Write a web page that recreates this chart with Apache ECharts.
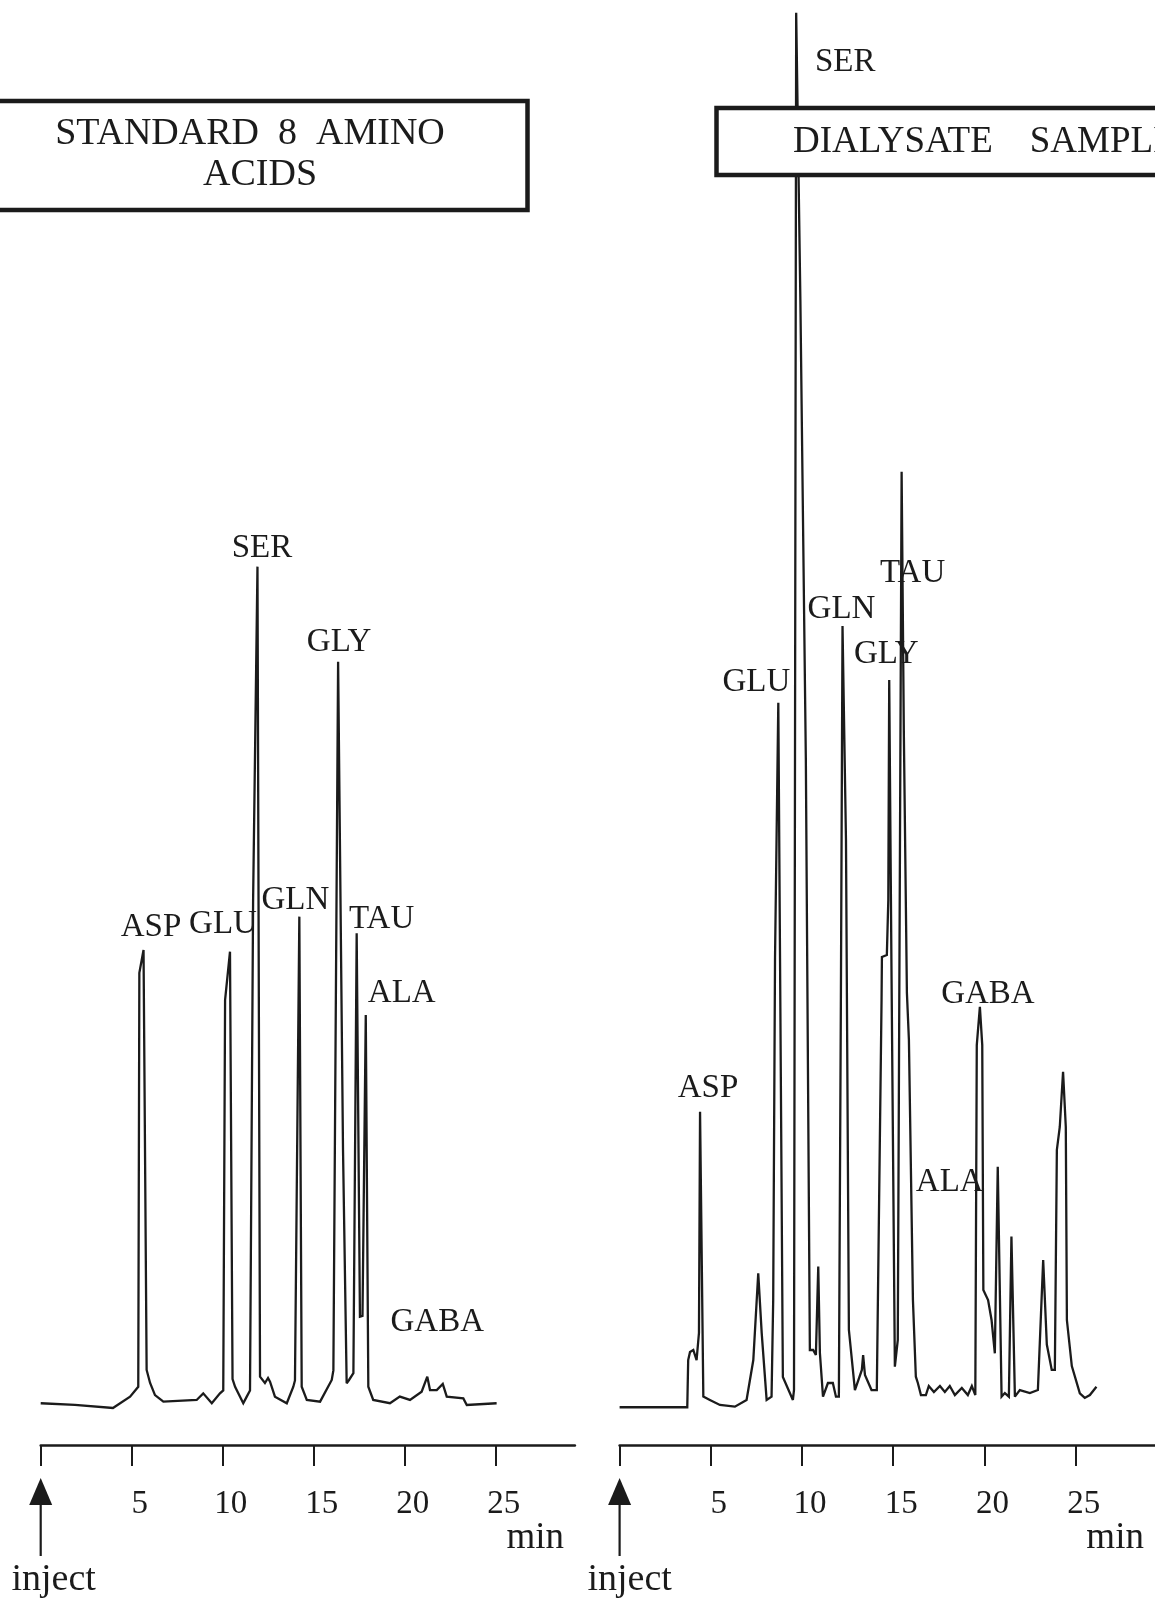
<!DOCTYPE html>
<html>
<head>
<meta charset="utf-8">
<script src="https://cdn.jsdelivr.net/npm/echarts@6/dist/echarts.min.js"></script>
<style>
  html, body { margin: 0; padding: 0; background: #ffffff; }
  #chart { width: 1155px; height: 1599px; }
</style>
</head>
<body>
<div id="chart"></div>
<script>
// ---- chromatogram data: retention time (min) and detector signal (relative units) ----
const tickMinutes = [0, 5, 10, 15, 20, 25];
const labelMinutes = [5, 10, 15, 20, 25];

// Standard mixture of 8 amino acids
const standardTime = [
  0, 1.88, 3.97, 4.91, 5.36, 5.42, 5.65, 5.82, 6.01, 6.28, 6.74, 8.57, 8.93, 9.40, 9.85,
  10.03, 10.13, 10.40, 10.54, 10.68, 11.13, 11.32, 11.50, 11.67, 11.91, 12.05, 12.32, 12.49,
  12.60, 12.87, 13.52, 13.88, 13.97, 14.21, 14.34, 14.62, 15.35, 15.99, 16.08, 16.34, 16.61,
  16.81, 16.94, 17.18, 17.36, 17.54, 17.68, 17.86, 18.00, 18.27, 19.19, 19.73, 20.29, 20.93,
  21.24, 21.39, 21.76, 22.09, 22.31, 23.22, 23.41, 25.05
];
const standardSignal = [
  2.91, 2.79, 2.58, 3.37, 4.06, 32.9, 34.49, 5.23, 4.32, 3.48, 3.02, 3.14, 3.60, 2.91, 3.60,
  3.80, 31.0, 34.38, 4.60, 4.06, 2.91, 3.37, 3.80, 37.98, 61.21, 4.76, 4.32, 4.67,
  4.41, 3.37, 2.91, 4.06, 4.50, 36.82, 4.06, 3.14, 3.02, 4.53, 5.20, 54.58, 20.56,
  4.30, 4.53, 5.00, 35.66, 8.94, 9.00, 29.97, 4.06, 3.14, 2.91, 3.37, 3.14, 3.71,
  4.76, 3.83, 3.83, 4.25, 3.37, 3.25, 2.79, 2.91
];
const standardPeakNames = ['ASP', 'GLU', 'SER', 'GLN', 'GLY', 'TAU', 'ALA', 'GABA'];
const standardPeakTimes = [5.65, 10.40, 11.91, 14.21, 16.34, 17.36, 17.86, 21.24];

// Dialysate sample
const dialysateTime = [
  0, 3.71, 3.76, 3.86, 4.04, 4.22, 4.35, 4.41, 4.59, 4.95, 5.50, 6.32, 6.96, 7.33, 7.60, 7.79,
  8.06, 8.33, 8.42, 8.52, 8.70, 8.95, 9.50, 9.56, 9.68, 9.91, 10.21, 10.43, 10.61, 10.76,
  10.89, 10.98, 11.15, 11.42, 11.69, 11.86, 12.02, 12.13, 12.22, 12.41, 12.57, 12.90, 13.28,
  13.35, 13.45, 13.81, 14.10, 14.36, 14.38, 14.65, 14.73, 14.78, 14.90, 15.09, 15.25, 15.46,
  15.58, 15.75, 15.86, 16.08, 16.24, 16.35, 16.52, 16.79, 16.95, 17.23, 17.56, 17.83, 18.10,
  18.38, 18.76, 19.09, 19.31, 19.50, 19.58, 19.75, 19.88, 19.94, 20.20, 20.39, 20.57, 20.73,
  20.94, 21.12, 21.34, 21.48, 21.67, 21.94, 22.49, 22.93, 23.22, 23.42, 23.69, 23.86, 23.97,
  24.13, 24.31, 24.46, 24.52, 24.79, 25.23, 25.50, 25.78, 26.14
];
const dialysateSignal = [
  2.63, 2.63, 5.92, 6.48, 6.62, 5.92, 7.80, 23.23, 3.37, 3.14, 2.79, 2.67, 3.14, 5.92, 11.97, 7.80,
  3.14, 3.37, 10.10, 33.94, 51.73, 4.74, 3.14, 3.83, 99.8, 79.79, 47.74, 6.62, 6.62, 6.27,
  12.43, 6.41, 3.37, 4.32, 4.32, 3.37, 3.37, 31.01, 57.07, 42.16, 8.01, 3.83, 5.23,
  6.27, 4.88, 3.83, 3.83, 31.01, 34.01, 34.15, 37.98, 53.31, 33.80, 5.46, 7.32, 67.83,
  49.83, 31.50, 28.22, 10.10, 4.76, 4.32, 3.48, 3.48, 4.11, 3.69, 4.11, 3.69, 4.11,
  3.48, 3.97, 3.48, 4.11, 3.48, 27.87, 30.54, 27.87, 10.80, 10.10, 8.71, 6.39, 19.39,
  3.37, 3.62, 3.37, 14.52, 3.37, 3.83, 3.62, 3.83, 12.89, 7.00, 5.23, 5.23, 20.56,
  22.16, 26.01, 22.16, 8.71, 5.50, 3.60, 3.28, 3.48, 4.06
];
const dialysatePeakNames = ['ASP', 'GLU', 'SER', 'GLN', 'GLY', 'TAU', 'GABA', 'ALA'];
const dialysatePeakTimes = [4.41, 8.70, 9.68, 12.22, 14.78, 15.46, 19.75, 20.73];

const standardTitle = ['STANDARD  8  AMINO', 'ACIDS'];
const dialysateTitle = 'DIALYSATE    SAMPLE';
const axisUnit = 'min';
const injectText = 'inject';

// ---- presentation ----
const FONT = '"Liberation Serif", "Times New Roman", serif';
const INK = '#1b1b1b';

const layout = {
  gridTop: 10,
  gridHeight: 1435,
  xMax: 29.35,
  yMax: 100,
  panels: [
    { left: 40.7, width: 534.2 },
    { left: 619.6, width: 535.4 }
  ]
};

// label placement (px) relative to each named peak apex
const labelOffsets = [
  { ASP: [7.5, -23], GLU: [-7, -27], SER: [4.5, -18], GLN: [-4, -16],
    GLY: [1, -19], TAU: [25, -14], ALA: [36, -22], GABA: [10, -54] },
  { ASP: [8, -23], GLU: [-22, -20], SER: [49, 49], GLN: [-1, -17],
    GLY: [-3, -26], TAU: [11, 102], GABA: [8, -12], ALA: [-48, 16] }
];

function zip(xs, ys) { return xs.map((x, i) => [x, ys[i]]); }

function peakMarks(names, times, xs, ys, offsets) {
  return names.map((name, i) => {
    const t = times[i];
    const v = ys[xs.indexOf(t)];
    return { name: name, coord: [t, v], label: { offset: offsets[name] } };
  });
}

const traces = [
  { time: standardTime, signal: standardSignal, names: standardPeakNames, times: standardPeakTimes },
  { time: dialysateTime, signal: dialysateSignal, names: dialysatePeakNames, times: dialysatePeakTimes }
];

const chart = echarts.init(document.getElementById('chart'), null, { renderer: 'canvas' });

const option = {
  animation: false,
  backgroundColor: '#ffffff',
  grid: layout.panels.map(p => ({
    left: p.left, width: p.width, top: layout.gridTop, height: layout.gridHeight,
    containLabel: false
  })),
  xAxis: layout.panels.map((p, i) => ({
    gridIndex: i,
    type: 'value',
    min: 0,
    max: layout.xMax,
    interval: 5,
    axisLine: { show: true, onZero: false, lineStyle: { color: INK, width: 2.5 } },
    axisTick: { show: true, inside: false, length: 21, customValues: tickMinutes,
                lineStyle: { color: INK, width: 2 } },
    axisLabel: { show: true, customValues: labelMinutes, margin: 43, color: INK,
                 fontFamily: FONT, fontSize: 33, padding: [0, 0, 0, 16] },
    splitLine: { show: false }
  })),
  yAxis: layout.panels.map((p, i) => ({
    gridIndex: i, type: 'value', min: 0, max: layout.yMax, show: false
  })),
  series: traces.map((tr, i) => ({
    type: 'line',
    xAxisIndex: i,
    yAxisIndex: i,
    data: zip(tr.time, tr.signal),
    showSymbol: false,
    symbol: 'none',
    smooth: false,
    lineStyle: { color: INK, width: 2.3, join: 'miter', miterLimit: 3 },
    z: 2,
    markPoint: {
      symbol: 'circle',
      symbolSize: 1,
      itemStyle: { color: 'rgba(0,0,0,0)' },
      label: { show: true, position: 'inside', formatter: '{b}', color: INK,
               fontFamily: FONT, fontSize: 33 },
      data: peakMarks(tr.names, tr.times, tr.time, tr.signal, labelOffsets[i])
    }
  }))
};

chart.setOption(option);

// inject arrows, unit labels and title boxes, placed from the axis scales
function decorations() {
  const g = [];
  [0, 1].forEach(i => {
    const origin = chart.convertToPixel({ xAxisIndex: i, yAxisIndex: i }, [0, 0]);
    const last = chart.convertToPixel({ xAxisIndex: i, yAxisIndex: i }, [25, 0]);
    const x0 = origin[0], y0 = origin[1];
    g.push({ type: 'polygon', z: 20,
      shape: { points: [[x0, y0 + 33], [x0 - 11.5, y0 + 60], [x0 + 11.5, y0 + 60]] },
      style: { fill: INK } });
    g.push({ type: 'line', z: 20,
      shape: { x1: x0, y1: y0 + 58, x2: x0, y2: y0 + 111 },
      style: { stroke: INK, lineWidth: 2.2 } });
    g.push({ type: 'text', z: 20, x: x0 + (i === 0 ? 13 : 10), y: y0 + 135,
      style: { text: injectText, fill: INK, fontFamily: FONT, fontSize: 38,
               align: 'center', verticalAlign: 'middle' } });
    g.push({ type: 'text', z: 20, x: last[0] + 39.5, y: y0 + 93,
      style: { text: axisUnit, fill: INK, fontFamily: FONT, fontSize: 37,
               align: 'center', verticalAlign: 'middle' } });
  });
  // title boxes sit on top of the traces
  g.push({ type: 'rect', z: 30, shape: { x: -10, y: 101, width: 537.5, height: 109 },
    style: { fill: '#ffffff', stroke: INK, lineWidth: 4.5 } });
  g.push({ type: 'text', z: 31, x: 250, y: 134,
    style: { text: standardTitle[0], fill: INK, fontFamily: FONT, fontSize: 38,
             align: 'center', verticalAlign: 'middle' } });
  g.push({ type: 'text', z: 31, x: 260, y: 175,
    style: { text: standardTitle[1], fill: INK, fontFamily: FONT, fontSize: 38,
             align: 'center', verticalAlign: 'middle' } });
  g.push({ type: 'rect', z: 30, shape: { x: 716.5, y: 108, width: 470, height: 67 },
    style: { fill: '#ffffff', stroke: INK, lineWidth: 4.5 } });
  g.push({ type: 'text', z: 31, x: 793, y: 142,
    style: { text: dialysateTitle, fill: INK, fontFamily: FONT, fontSize: 37,
             align: 'left', verticalAlign: 'middle' } });
  return g;
}

chart.setOption({ graphic: decorations() });
</script>
</body>
</html>
